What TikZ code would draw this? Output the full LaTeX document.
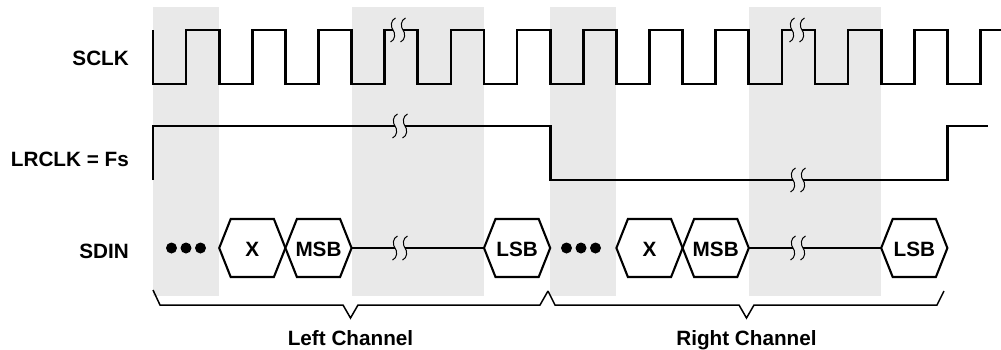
\documentclass[tikz,border=0pt]{standalone}
\usepackage{fontspec}
\setmainfont{Liberation Sans}
\definecolor{band}{RGB}{233,233,233}
\tikzset{
  sig/.style={line width=2.7pt, line join=miter},
  hexline/.style={line width=2.1pt, line join=miter, fill=white},
  bracel/.style={line width=1.5pt, line join=miter},
  brkline/.style={line width=1pt},
  lbl/.style={font=\fontsize{20.7}{24}\selectfont\bfseries, inner sep=0pt},
}
\newcommand\brkmark[2]{\draw[brkline] (#1+2.5,#2-12) .. controls (#1-2.5,#2-10) and (#1-2.5,#2-3) .. (#1,#2) .. controls (#1+2.5,#2+3) and (#1+2.5,#2+10) .. (#1-2.5,#2+12);}
\newcommand\hexa[2]{\draw[hexline] (#1,248) -- (#1+11.5,219) -- (#2-11.5,219) -- (#2,248) -- (#2-11.5,277) -- (#1+11.5,277) -- cycle;}
\begin{document}
\begin{tikzpicture}[x=1pt,y=-1pt]
\useasboundingbox (0,0) rectangle (1001,349);
% shaded bands
\fill[band] (153,7) rectangle (219.2,296);
\fill[band] (351.6,7) rectangle (484,296);
\fill[band] (550.2,7) rectangle (616.4,296);
\fill[band] (748.8,7) rectangle (881.2,296);
% labels
\node[lbl, anchor=base east] (sclk) at (129,65) {SCLK};
\node[lbl, anchor=base east] (lrclk) at (129,166.5) {LRCLK = Fs};
\node[lbl, anchor=base east] (sdin) at (129,258) {SDIN};
% SCLK
\draw[sig] (153,30) -- (153,84) -- (186.1,84) -- (186.1,30) -- (219.2,30) -- (219.2,84) -- (252.3,84) -- (252.3,30) -- (285.4,30) -- (285.4,84) -- (318.5,84) -- (318.5,30) -- (351.6,30) -- (351.6,84) -- (384.7,84) -- (384.7,30) -- (393,30);
\draw[sig] (403,30) -- (417.8,30) -- (417.8,84) -- (450.9,84) -- (450.9,30) -- (484,30) -- (484,84) -- (517.1,84) -- (517.1,30) -- (550.2,30) -- (550.2,84) -- (583.3,84) -- (583.3,30) -- (616.4,30) -- (616.4,84) -- (649.5,84) -- (649.5,30) -- (682.6,30) -- (682.6,84) -- (715.7,84) -- (715.7,30) -- (748.8,30) -- (748.8,84) -- (781.9,84) -- (781.9,30) -- (792,30);
\draw[sig] (802,30) -- (815,30) -- (815,84) -- (848.1,84) -- (848.1,30) -- (881.2,30) -- (881.2,84) -- (914.3,84) -- (914.3,30) -- (947.4,30) -- (947.4,84) -- (980.5,84) -- (980.5,30) -- (1001,30);
\brkmark{393}{30}\brkmark{403}{30}
\brkmark{792}{30}\brkmark{802}{30}
% LRCLK
\draw[sig] (153,180) -- (153,126) -- (395,126);
\draw[sig] (405,126) -- (550.2,126) -- (550.2,180) -- (793,180);
\draw[sig] (803,180) -- (947.4,180) -- (947.4,126) -- (988,126);
\brkmark{395}{126}\brkmark{405}{126}
\brkmark{793}{180}\brkmark{803}{180}
% SDIN
\fill (171.5,248) circle (5.5) (186,248) circle (5.5) (200.5,248) circle (5.5);
\fill (566.5,248) circle (5.5) (581,248) circle (5.5) (595.5,248) circle (5.5);
\draw[hexline] (351.6,248) -- (395,248);
\draw[hexline] (405,248) -- (484,248);
\draw[hexline] (748.8,248) -- (793,248);
\draw[hexline] (803,248) -- (881.2,248);
\brkmark{395}{248}\brkmark{405}{248}
\brkmark{793}{248}\brkmark{803}{248}
\hexa{219.2}{285.4}
\hexa{285.4}{351.6}
\hexa{484}{550.2}
\hexa{616.4}{682.6}
\hexa{682.6}{748.8}
\hexa{881.2}{947.4}
\node[lbl, anchor=base] (x1) at (252.3,256) {X};
\node[lbl, anchor=base] (msb1) at (318.5,256) {MSB};
\node[lbl, anchor=base] (lsb1) at (517.1,256) {LSB};
\node[lbl, anchor=base] (x2) at (649.5,256) {X};
\node[lbl, anchor=base] (msb2) at (715.7,256) {MSB};
\node[lbl, anchor=base] (lsb2) at (914.3,256) {LSB};
% braces
\draw[bracel] (153,290) -- (160,305) -- (343,305) -- (350.5,318) -- (358,305) -- (540,305) -- (548,291);
\draw[bracel] (548,291) -- (555,305) -- (739,305) -- (746.5,318) -- (754,305) -- (937,305) -- (944,291);
\node[lbl, anchor=base] (left) at (350.5,345) {Left Channel};
\node[lbl, anchor=base] (right) at (746.5,345) {Right Channel};
\end{tikzpicture}
\end{document}
